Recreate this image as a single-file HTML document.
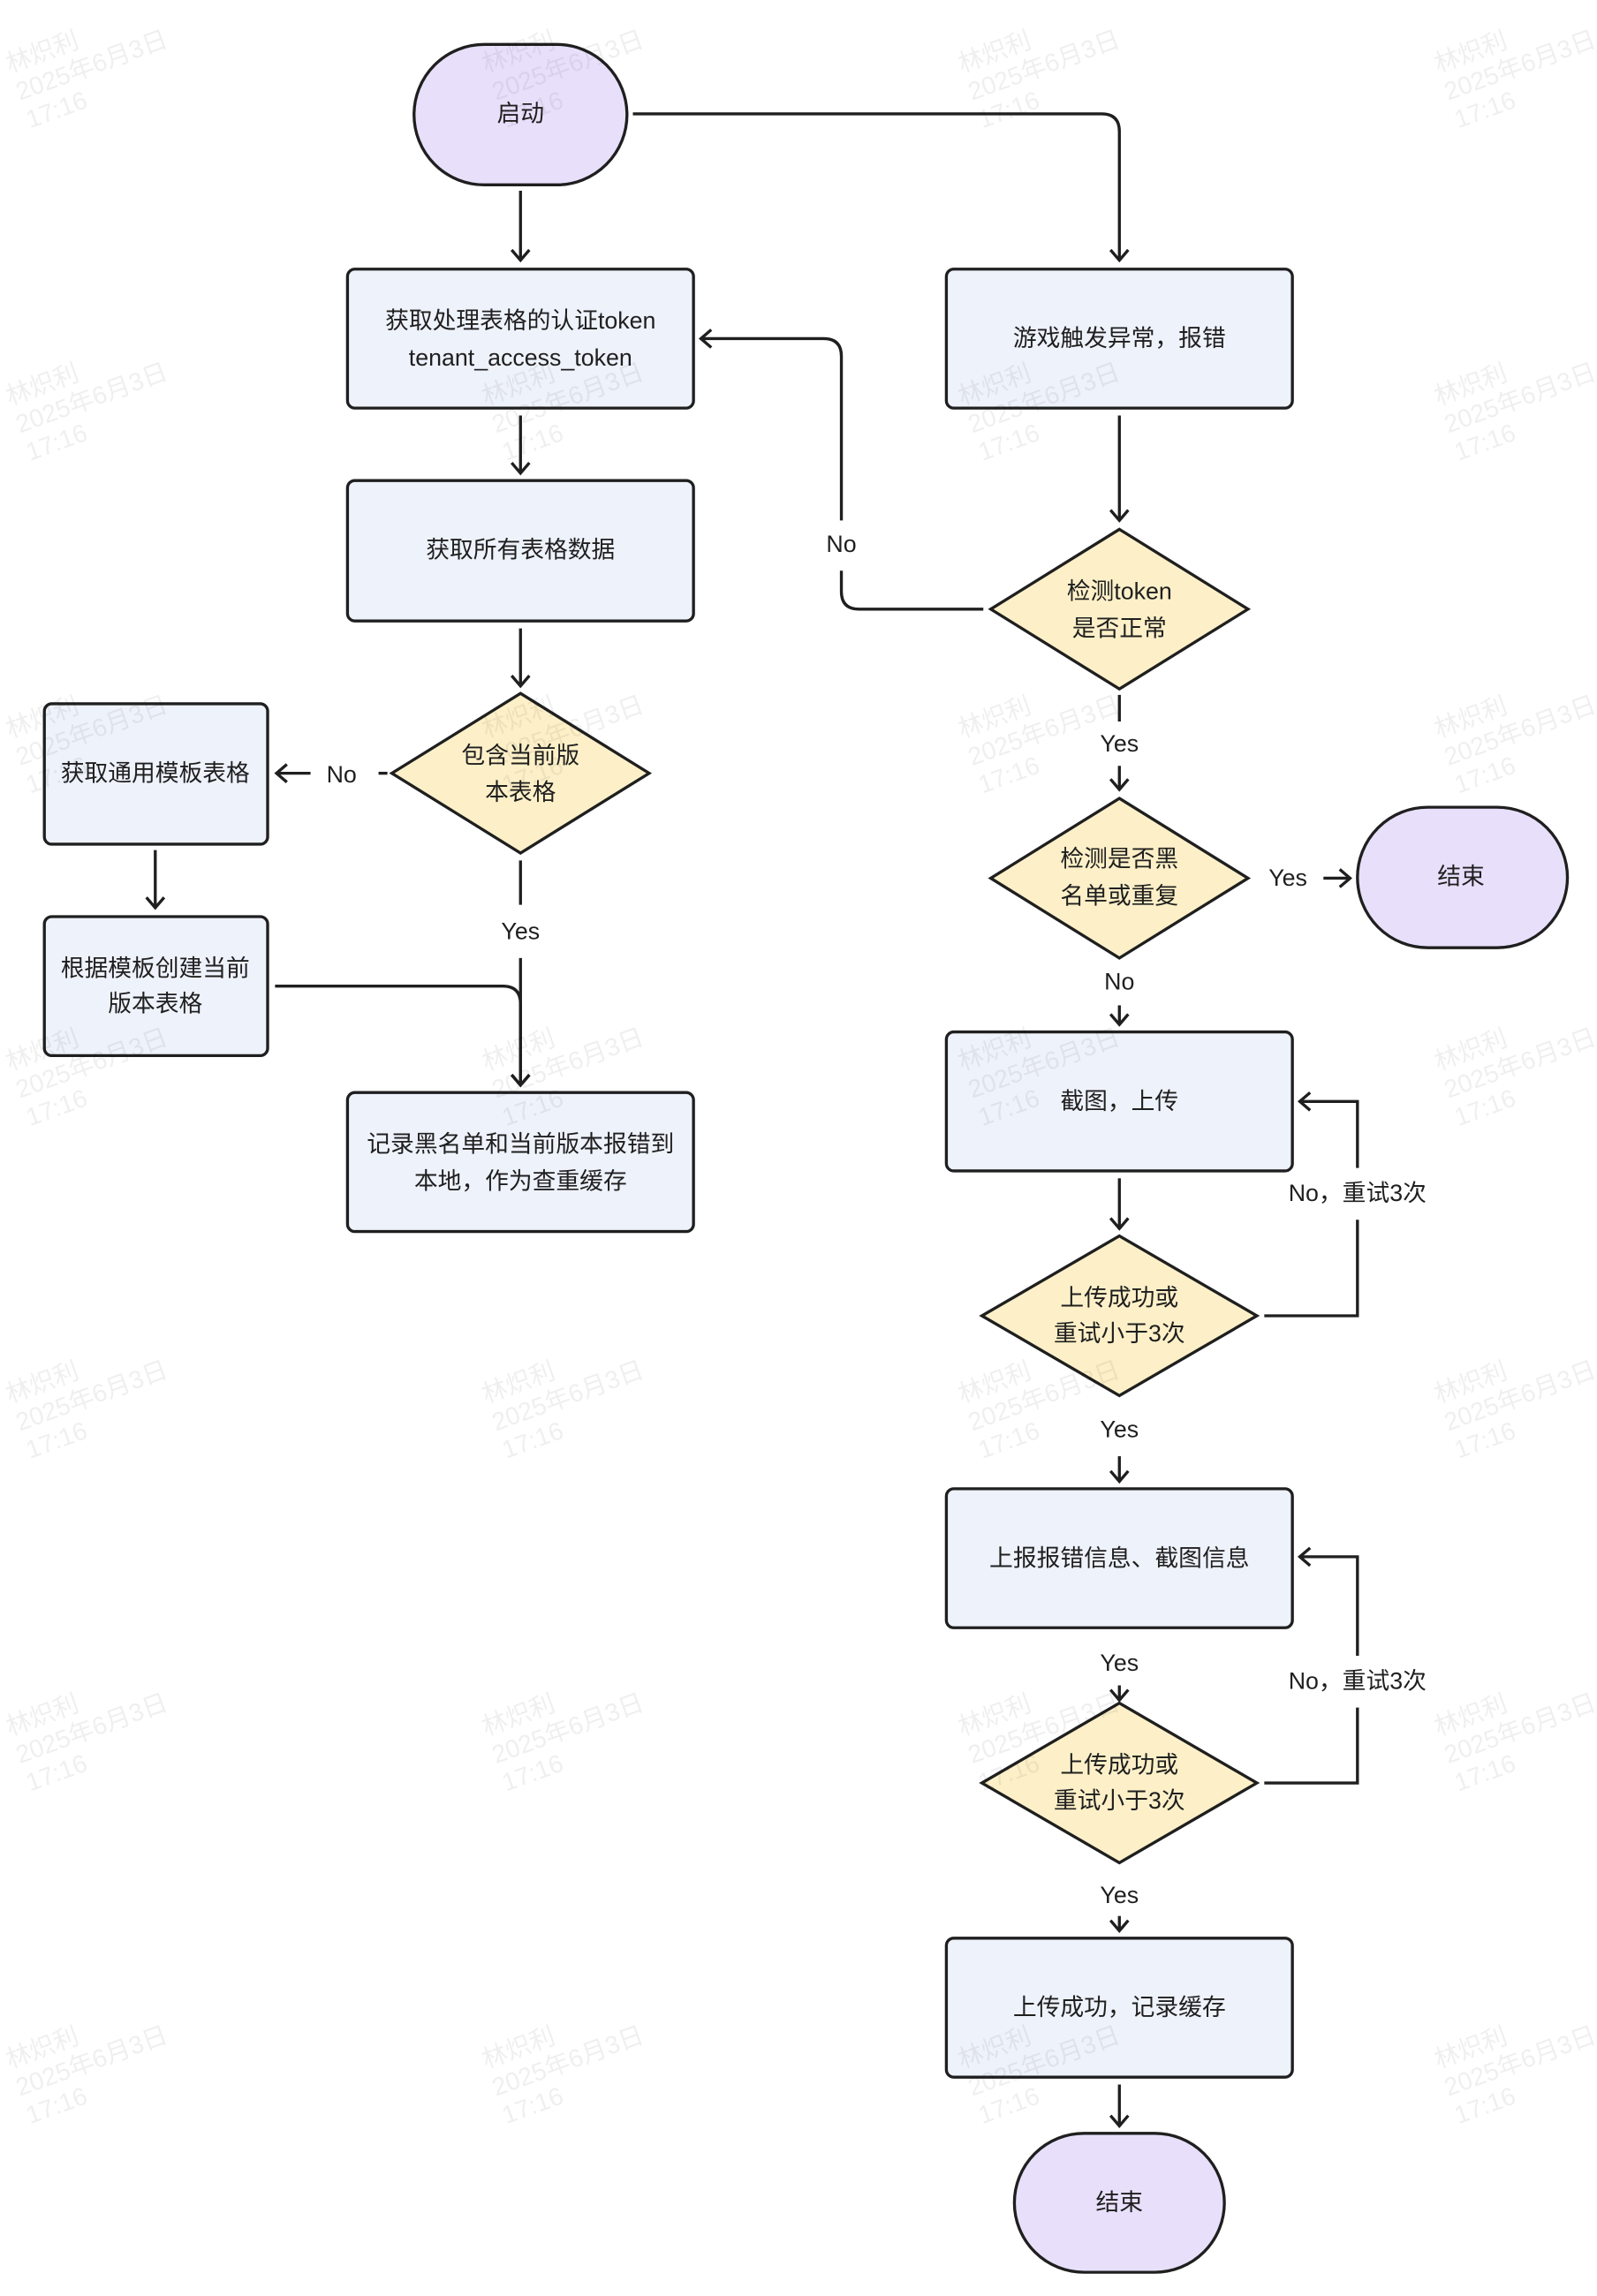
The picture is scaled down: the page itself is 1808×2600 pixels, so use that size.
<!DOCTYPE html>
<html><head><meta charset="utf-8"><style>
html,body{margin:0;padding:0;background:#fff;}
svg{display:block;}
text{font-family:"Liberation Sans","Noto Sans CJK SC",sans-serif;font-size:16px;fill:#1f1f1f;text-anchor:middle;dominant-baseline:middle;}
.wm{font-size:17px;fill:#000;opacity:0.06;text-anchor:start;}
</style></head><body>
<svg width="1808" height="2600" viewBox="0 0 1080 1553" xmlns="http://www.w3.org/2000/svg">
<defs>
<marker id="a" markerWidth="14" markerHeight="14" refX="10" refY="7" orient="auto" markerUnits="userSpaceOnUse">
<path d="M3,1 L10,7 L3,13" fill="none" stroke="#1f1f1f" stroke-width="2"/>
</marker>
<g id="w"><text class="wm" x="0" y="0">林炽利</text><text class="wm" x="0" y="20">2025年6月3日</text><text class="wm" x="0" y="40">17:16</text></g>
</defs>
<rect width="1080" height="1553" fill="#fff"/>
<g fill="none" stroke="#1f1f1f" stroke-width="2">
<rect x="280" y="30" width="144" height="95" rx="47.5" fill="#e8e0fb"/>
<rect x="235" y="182" width="234" height="94" rx="5" fill="#eef2fb"/>
<rect x="235" y="325" width="234" height="95" rx="5" fill="#eef2fb"/>
<polygon points="352,469 439,523 352,577 265,523" fill="#fdf0c8"/>
<rect x="30" y="476" width="151" height="95" rx="5" fill="#eef2fb"/>
<rect x="30" y="620" width="151" height="94" rx="5" fill="#eef2fb"/>
<rect x="235" y="739" width="234" height="94" rx="5" fill="#eef2fb"/>
<rect x="640" y="182" width="234" height="94" rx="5" fill="#eef2fb"/>
<polygon points="757,358 844,412 757,466 670,412" fill="#fdf0c8"/>
<polygon points="757,540 844,594 757,648 670,594" fill="#fdf0c8"/>
<rect x="918" y="546" width="142" height="95" rx="47.5" fill="#e8e0fb"/>
<rect x="640" y="698" width="234" height="94" rx="5" fill="#eef2fb"/>
<polygon points="757,836 850,890 757,944 664,890" fill="#fdf0c8"/>
<rect x="640" y="1007" width="234" height="94" rx="5" fill="#eef2fb"/>
<polygon points="757,1152 850,1206 757,1260 664,1206" fill="#fdf0c8"/>
<rect x="640" y="1311" width="234" height="94" rx="5" fill="#eef2fb"/>
<rect x="686" y="1443" width="142" height="94" rx="47" fill="#e8e0fb"/>
<path d="M352,129 V176" marker-end="url(#a)"/>
<path d="M428,77 H745 Q757,77 757,89 V176" marker-end="url(#a)"/>
<path d="M352,281 V320" marker-end="url(#a)"/>
<path d="M352,425 V464" marker-end="url(#a)"/>
<path d="M262,523 H252" stroke-dasharray="6,4"/>
<path d="M210,523 H187" marker-end="url(#a)"/>
<path d="M105,575 V614" marker-end="url(#a)"/>
<path d="M186,667 H340 Q352,667 352,679 V734" marker-end="url(#a)"/>
<path d="M352,582 V612"/>
<path d="M352,648 V734" marker-end="url(#a)"/>
<path d="M757,281 V352" marker-end="url(#a)"/>
<path d="M665,412 H581 Q569,412 569,400 V386"/>
<path d="M569,352 V241 Q569,229 557,229 H474" marker-end="url(#a)"/>
<path d="M757,470 V488"/>
<path d="M757,518 V534" marker-end="url(#a)"/>
<path d="M895,594 H913" marker-end="url(#a)"/>
<path d="M757,680 V693" marker-end="url(#a)"/>
<path d="M757,797 V831" marker-end="url(#a)"/>
<path d="M855,890 H918 V825"/>
<path d="M918,790 V745 H879" marker-end="url(#a)"/>
<path d="M757,985 V1002" marker-end="url(#a)"/>
<path d="M757,1140 V1150" marker-end="url(#a)"/>
<path d="M855,1206 H918 V1155"/>
<path d="M918,1120 V1053 H879" marker-end="url(#a)"/>
<path d="M757,1296 V1306" marker-end="url(#a)"/>
<path d="M757,1410 V1438" marker-end="url(#a)"/>
</g>
<text x="352" y="78">启动</text>
<text x="352" y="218">获取处理表格的认证token</text>
<text x="352" y="243">tenant_access_token</text>
<text x="352" y="373">获取所有表格数据</text>
<text x="352" y="512">包含当前版</text>
<text x="352" y="537">本表格</text>
<text x="105" y="524">获取通用模板表格</text>
<text x="105" y="656">根据模板创建当前</text>
<text x="105" y="680">版本表格</text>
<text x="352" y="775">记录黑名单和当前版本报错到</text>
<text x="352" y="800">本地，作为查重缓存</text>
<text x="757" y="230">游戏触发异常，报错</text>
<text x="757" y="401">检测token</text>
<text x="757" y="426">是否正常</text>
<text x="757" y="582">检测是否黑</text>
<text x="757" y="607">名单或重复</text>
<text x="988" y="594">结束</text>
<text x="757" y="746">截图，上传</text>
<text x="757" y="879">上传成功或</text>
<text x="757" y="903">重试小于3次</text>
<text x="757" y="1055">上报报错信息、截图信息</text>
<text x="757" y="1195">上传成功或</text>
<text x="757" y="1219">重试小于3次</text>
<text x="757" y="1359">上传成功，记录缓存</text>
<text x="757" y="1491">结束</text>
<text x="231" y="525">No</text>
<text x="352" y="631">Yes</text>
<text x="569" y="369">No</text>
<text x="757" y="504">Yes</text>
<text x="871" y="595">Yes</text>
<text x="757" y="665">No</text>
<text x="918" y="808">No，重试3次</text>
<text x="757" y="968">Yes</text>
<text x="757" y="1126">Yes</text>
<text x="918" y="1138">No，重试3次</text>
<text x="757" y="1283">Yes</text>
<g>
<use href="#w" transform="translate(5,45) rotate(-20)"/><use href="#w" transform="translate(327,45) rotate(-20)"/><use href="#w" transform="translate(649,45) rotate(-20)"/><use href="#w" transform="translate(971,45) rotate(-20)"/>
<use href="#w" transform="translate(5,270) rotate(-20)"/><use href="#w" transform="translate(327,270) rotate(-20)"/><use href="#w" transform="translate(649,270) rotate(-20)"/><use href="#w" transform="translate(971,270) rotate(-20)"/>
<use href="#w" transform="translate(5,495) rotate(-20)"/><use href="#w" transform="translate(327,495) rotate(-20)"/><use href="#w" transform="translate(649,495) rotate(-20)"/><use href="#w" transform="translate(971,495) rotate(-20)"/>
<use href="#w" transform="translate(5,720) rotate(-20)"/><use href="#w" transform="translate(327,720) rotate(-20)"/><use href="#w" transform="translate(649,720) rotate(-20)"/><use href="#w" transform="translate(971,720) rotate(-20)"/>
<use href="#w" transform="translate(5,945) rotate(-20)"/><use href="#w" transform="translate(327,945) rotate(-20)"/><use href="#w" transform="translate(649,945) rotate(-20)"/><use href="#w" transform="translate(971,945) rotate(-20)"/>
<use href="#w" transform="translate(5,1170) rotate(-20)"/><use href="#w" transform="translate(327,1170) rotate(-20)"/><use href="#w" transform="translate(649,1170) rotate(-20)"/><use href="#w" transform="translate(971,1170) rotate(-20)"/>
<use href="#w" transform="translate(5,1395) rotate(-20)"/><use href="#w" transform="translate(327,1395) rotate(-20)"/><use href="#w" transform="translate(649,1395) rotate(-20)"/><use href="#w" transform="translate(971,1395) rotate(-20)"/>
</g>
</svg>
</body></html>
